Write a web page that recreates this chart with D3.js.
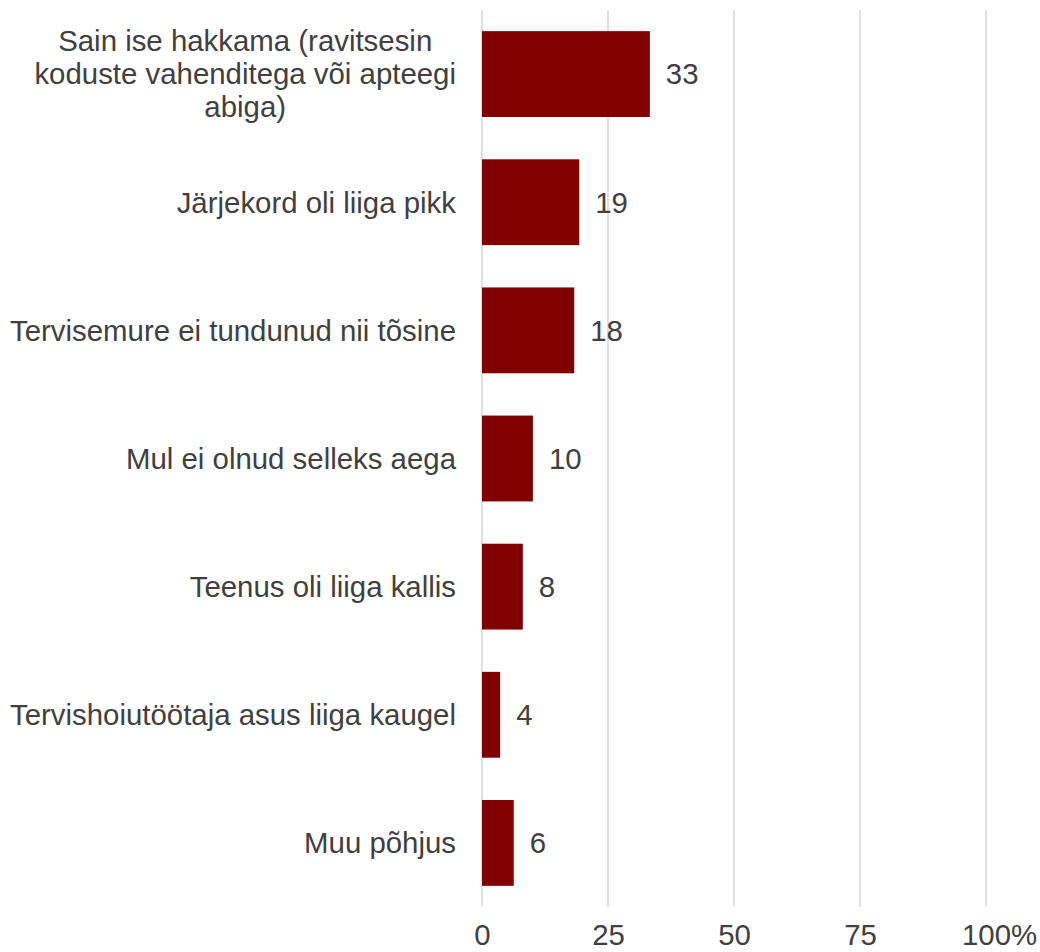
<!DOCTYPE html>
<html>
<head>
<meta charset="utf-8">
<script src="https://cdn.jsdelivr.net/npm/d3@7"></script>
<style>
  html, body { margin: 0; padding: 0; background: #fff; }
  svg text { font-family: "Liberation Sans", Arial, sans-serif; fill: #404040; }
</style>
</head>
<body>
<svg id="chart" width="1040" height="952"></svg>
<script>
const categories = [
  ["Sain ise hakkama (ravitsesin", "koduste vahenditega või apteegi", "abiga)"],
  ["Järjekord oli liiga pikk"],
  ["Tervisemure ei tundunud nii tõsine"],
  ["Mul ei olnud selleks aega"],
  ["Teenus oli liiga kallis"],
  ["Tervishoiutöötaja asus liiga kaugel"],
  ["Muu põhjus"]
];
const values = [33.3, 19.3, 18.3, 10.1, 8.1, 3.6, 6.3];
const tickValues = [0, 25, 50, 75, 100];
const tickLabels = ["0", "25", "50", "75", "100"];
const tickSuffix = "%";

const svg = d3.select("#chart");
const margin = { left: 482, right: 54, top: 10, bottom: 45 };
const W = 1040, H = 952;
const fontSize = 29.4;

const x = d3.scaleLinear().domain([0, 100]).range([margin.left, W - margin.right]);
const y = d3.scaleBand()
  .domain(d3.range(categories.length))
  .range([margin.top, H - margin.bottom])
  .paddingInner(0.33)
  .paddingOuter(0.165);

// gridlines
svg.append("g").selectAll("line").data(tickValues).join("line")
  .attr("x1", d => x(d)).attr("x2", d => x(d))
  .attr("y1", margin.top).attr("y2", H - margin.bottom)
  .attr("stroke", "#d9d9d9").attr("stroke-width", 1.6);

// x axis labels
const axis = d3.axisBottom(x).tickValues(tickValues)
  .tickFormat((d, i) => tickLabels[i]).tickSize(0).tickPadding(0);
const gx = svg.append("g")
  .attr("transform", `translate(0,${H - margin.bottom})`)
  .call(axis);
gx.select(".domain").remove();
gx.selectAll("text")
  .attr("font-size", fontSize)
  .attr("font-family", '"Liberation Sans", Arial, sans-serif')
  .attr("fill", "#404040")
  .attr("dy", null)
  .attr("y", 38);
// suffix after last tick label
const lastText = gx.selectAll(".tick text").filter((d, i, n) => i === n.length - 1);
const bb = lastText.node().getBBox();
const lastTick = gx.selectAll(".tick").filter((d, i, n) => i === n.length - 1);
lastTick.append("text")
  .attr("x", bb.x + bb.width).attr("y", 38)
  .attr("text-anchor", "start")
  .attr("font-size", fontSize)
  .attr("fill", "#404040")
  .text(tickSuffix);

// bars
svg.append("g").selectAll("rect").data(values).join("rect")
  .attr("x", x(0))
  .attr("y", (d, i) => y(i))
  .attr("width", d => x(d) - x(0))
  .attr("height", y.bandwidth())
  .attr("fill", "#800000");

// value labels
svg.append("g").selectAll("text").data(values).join("text")
  .attr("x", d => x(d) + 16)
  .attr("y", (d, i) => y(i) + y.bandwidth() / 2)
  .attr("dy", "0.35em")
  .attr("font-size", fontSize)
  .text(d => Math.round(d));

// category labels
const labelRight = x(0) - 26;
const lineH = 33;
const gl = svg.append("g");
categories.forEach((lines, i) => {
  const cy = y(i) + y.bandwidth() / 2;
  const t = gl.append("text").attr("font-size", fontSize);
  if (lines.length === 1) {
    t.attr("x", labelRight).attr("y", cy).attr("dy", "0.35em")
      .attr("text-anchor", "end").text(lines[0]);
  } else {
    const spans = lines.map((l, k) =>
      t.append("tspan").attr("y", cy + (k - (lines.length - 1) / 2) * lineH)
        .attr("dy", "0.35em").text(l));
    const maxW = d3.max(spans, s => s.node().getComputedTextLength());
    const cx = labelRight - maxW / 2;
    t.attr("text-anchor", "middle");
    spans.forEach(s => s.attr("x", cx));
  }
});
</script>
</body>
</html>
